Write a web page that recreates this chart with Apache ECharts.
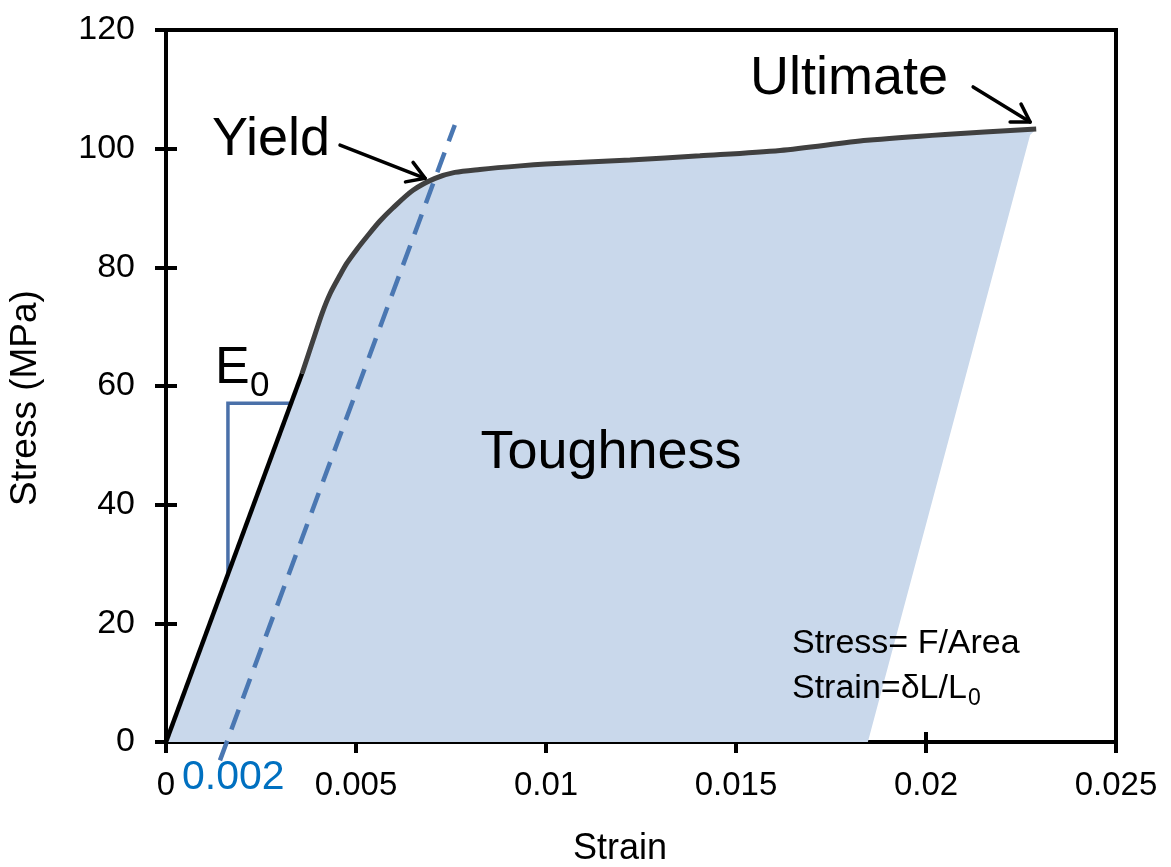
<!DOCTYPE html>
<html>
<head>
<meta charset="utf-8">
<script src="https://cdn.jsdelivr.net/npm/echarts@6/dist/echarts.min.js"></script>
<style>
  html, body { margin: 0; padding: 0; background: #fff; }
  #chart { width: 1171px; height: 867px; }
</style>
</head>
<body>
<div id="chart"></div>
<script>
// Axis ranges and ticks
const strainTicks = [0, 0.005, 0.01, 0.015, 0.02, 0.025];
const stressTicks = [0, 20, 40, 60, 80, 100, 120];

// Linear elastic region
const elasticStrain = [0, 0.00358];
const elasticStress = [0, 62.1];

// Plastic region up to the ultimate point
const curveStrain = [0.00358, 0.00387, 0.00411, 0.00432, 0.00458, 0.00476, 0.00503, 0.00529,
                     0.00563, 0.00597, 0.0065, 0.00708, 0.0076, 0.00826, 0.00932, 0.01,
                     0.01221, 0.01405, 0.01616, 0.01845, 0.0205, 0.0229];
const curveStress = [62.1, 67.7, 72.3, 75.6, 78.7, 80.7, 83.1, 85.2,
                     87.8, 90.0, 93.0, 95.0, 96.0, 96.5, 97.1, 97.4,
                     98.1, 98.8, 99.7, 101.4, 102.4, 103.3];

// Elastic unloading edge of the toughness area
const unloadStrain = [0.02274, 0.01847];
const unloadStress = [102.3, 0];

// 0.2% offset line
const offsetStrain = [0.00142, 0.0076];
const offsetStress = [-3.1, 104];

// Slope triangle for E0
const slopeStrain = [0.00163, 0.00163, 0.00326];
const slopeStress = [28.1, 57.1, 57.1];

// Annotation arrows: [start, tip]
const yieldArrow = [[0.00458, 100.6], [0.00682, 95.0]];
const ultimateArrow = [[0.02124, 110.4], [0.02274, 104.5]];

const zip = (xs, ys) => xs.map((x, i) => [x, ys[i]]);

const toughnessOutline = []
  .concat(zip(elasticStrain, elasticStress))
  .concat(zip(curveStrain, curveStress).slice(1))
  .concat(zip(unloadStrain, unloadStress));

const FONT = '"Liberation Sans", Arial, sans-serif';

const chart = echarts.init(document.getElementById('chart'), null, { renderer: 'canvas' });

const tickFmt = v => {
  const t = strainTicks.find(s => Math.abs(s - v) < 1e-9);
  return t === 0 ? '0' : String(+Number(t).toFixed(3));
};

function arrowRenderer(params, api) {
  const pts = params.dataIndex === 0 ? yieldArrow : ultimateArrow;
  const a = api.coord(pts[0]);
  const b = api.coord(pts[1]);
  const ang = Math.atan2(b[1] - a[1], b[0] - a[0]);
  const L = 20, spread = 0.55;
  const h1 = [b[0] - L * Math.cos(ang - spread), b[1] - L * Math.sin(ang - spread)];
  const h2 = [b[0] - L * Math.cos(ang + spread), b[1] - L * Math.sin(ang + spread)];
  const st = { stroke: '#000', lineWidth: 3.5, fill: null, lineCap: 'round', lineJoin: 'round' };
  return {
    type: 'group',
    children: [
      { type: 'line', shape: { x1: a[0], y1: a[1], x2: b[0], y2: b[1] }, style: st },
      { type: 'polyline', shape: { points: [h1, b, h2] }, style: st }
    ]
  };
}

const textStyle = (text, size, extra) => Object.assign({
  text: text, font: size + 'px ' + FONT, fill: '#000', verticalAlign: 'middle'
}, extra || {});

const option = {
  animation: false,
  grid: {
    left: 166, right: 55, top: 30, bottom: 125,
    show: true, borderColor: '#000', borderWidth: 4, backgroundColor: 'transparent'
  },
  xAxis: [
    {
      type: 'value', min: 0, max: 0.025, interval: 0.005,
      axisLine: { show: true, lineStyle: { color: '#000', width: 4 } },
      axisTick: { show: true, length: 11, lineStyle: { color: '#000', width: 4 } },
      axisLabel: { fontFamily: FONT, fontSize: 33, color: '#000', margin: 27, formatter: tickFmt },
      splitLine: { show: false }
    },
    {
      type: 'value', min: 0, max: 0.025, interval: 0.005, position: 'bottom',
      axisLine: { show: false },
      axisTick: { show: true, inside: true, length: 10, lineStyle: { color: '#000', width: 4 } },
      axisLabel: { show: false }, splitLine: { show: false }
    }
  ],
  yAxis: [
    {
      type: 'value', min: 0, max: 120, interval: 20,
      axisLine: { show: true, lineStyle: { color: '#000', width: 4 } },
      axisTick: { show: true, length: 11, lineStyle: { color: '#000', width: 4 } },
      axisLabel: { fontFamily: FONT, fontSize: 34, color: '#000', margin: 31 },
      splitLine: { show: false }
    },
    {
      type: 'value', min: 0, max: 120, interval: 20, position: 'left',
      axisLine: { show: false },
      axisTick: { show: true, inside: true, length: 11, lineStyle: { color: '#000', width: 4 } },
      axisLabel: { show: false }, splitLine: { show: false }
    }
  ],
  series: [
    {
      name: 'Toughness', type: 'custom', xAxisIndex: 0, yAxisIndex: 0,
      data: [[0, 0]], z: 1,
      renderItem: (params, api) => ({
        type: 'polygon',
        shape: { points: toughnessOutline.map(p => api.coord(p)) },
        style: { fill: '#c9d8eb', stroke: null }
      })
    },
    {
      name: 'Slope', type: 'line', data: zip(slopeStrain, slopeStress), z: 3,
      symbol: 'none', lineStyle: { color: '#4a70a9', width: 3.5, cap: 'butt', join: 'miter' }
    },
    {
      name: 'Elastic', type: 'line', data: zip(elasticStrain, elasticStress), z: 4,
      symbol: 'none', lineStyle: { color: '#000', width: 4.5 }
    },
    {
      name: 'Plastic', type: 'line', data: zip(curveStrain, curveStress), z: 4,
      symbol: 'none', smooth: 0.3,
      lineStyle: { color: '#404040', width: 5 }
    },
    {
      name: 'Offset', type: 'line', data: zip(offsetStrain, offsetStress), z: 5,
      symbol: 'none', clip: false,
      lineStyle: { color: '#4a77b2', width: 4.5, type: [21, 12] }
    },
    {
      name: 'Arrows', type: 'custom', data: [[0, 0], [0, 0]], z: 6, clip: false,
      renderItem: arrowRenderer
    }
  ],
  graphic: {
    elements: [
      { type: 'text', z: 100, x: 620, y: 849, style: textStyle('Strain', 36, { align: 'center' }) },
      { type: 'text', z: 100, x: 26, y: 398, rotation: Math.PI / 2,
        style: textStyle('Stress (MPa)', 37, { align: 'center' }) },
      { type: 'text', z: 100, x: 212, y: 140, style: textStyle('Yield', 54) },
      { type: 'text', z: 100, x: 750, y: 79, style: textStyle('Ultimate', 54) },
      { type: 'text', z: 100, x: 611, y: 453, style: textStyle('Toughness', 54, { align: 'center' }) },
      { type: 'text', z: 100, x: 215, y: 369, style: textStyle('E', 52) },
      { type: 'text', z: 100, x: 250, y: 386, style: textStyle('0', 35) },
      { type: 'text', z: 100, x: 792, y: 644, style: textStyle('Stress= F/Area', 34) },
      { type: 'text', z: 100, x: 792, y: 689, style: textStyle('Strain=δL/L', 34) },
      { type: 'text', z: 100, x: 968, y: 699, style: textStyle('0', 23) },
      { type: 'text', z: 100, x: 182, y: 778, style: textStyle('0.002', 41, { fill: '#0070c0' }) }
    ]
  }
};

chart.setOption(option);
</script>
</body>
</html>
